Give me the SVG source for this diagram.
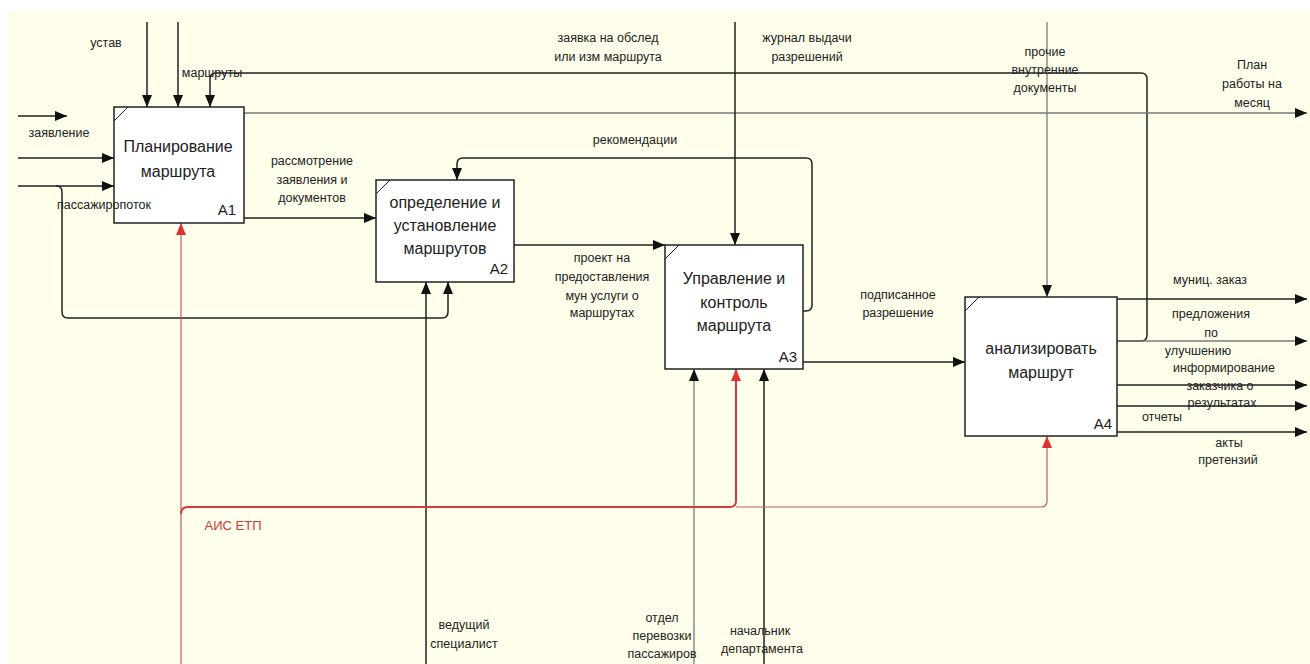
<svg xmlns="http://www.w3.org/2000/svg" width="1310" height="664" viewBox="0 0 1310 664">
<style>
.bg{fill:#FFFEEB}
.box{fill:#fff;stroke:#222;stroke-width:1.5}
.tick{stroke:#222;stroke-width:1}
.bt{font-family:"Liberation Sans",Arial,sans-serif;font-size:16px;fill:#222;text-anchor:middle}
.id{font-family:"Liberation Sans",Arial,sans-serif;font-size:15px;fill:#222;text-anchor:middle}
.lb{font-family:"Liberation Sans",Arial,sans-serif;font-size:12.5px;fill:#222;text-anchor:middle}
.rl{font-family:"Liberation Sans",Arial,sans-serif;font-size:13px;fill:#C83C3C;text-anchor:middle}
.c{fill:none;stroke:#222;stroke-width:1.5}
.g{fill:none;stroke:#7a7a7a;stroke-width:1.3}
.r{fill:none;stroke:#D23C3C;stroke-width:2}
.rt{fill:none;stroke:#B86060;stroke-width:1.2}
</style>
<defs>
<marker id="ah" markerUnits="userSpaceOnUse" markerWidth="13" markerHeight="11" refX="12" refY="5" orient="auto"><path d="M0,0 L12,5 L0,10 z" fill="#111"/></marker>
<marker id="ahr" markerUnits="userSpaceOnUse" markerWidth="13" markerHeight="11" refX="12" refY="5" orient="auto"><path d="M0,0 L12,5 L0,10 z" fill="#E03030"/></marker>
</defs>
<rect x="0" y="0" width="1310" height="664" fill="#fff"/>
<rect class="bg" x="8" y="11" width="1302" height="653"/>

<g id="connectors">
<path class="c" d="M18,116 H67" marker-end="url(#ah)"/>
<path class="c" d="M18,158 H114" marker-end="url(#ah)"/>
<path class="c" d="M18,186 H114" marker-end="url(#ah)"/>
<path class="c" d="M56,186 Q62,186 62,192 V312 Q62,318 68,318 H442 Q448,318 448,312 V282" marker-end="url(#ah)"/>
<path class="c" d="M147,22 V107" marker-end="url(#ah)"/>
<path class="c" d="M178,22 V107" marker-end="url(#ah)"/>
<path class="c" d="M1117,341 H1141 Q1147,341 1147,335 V79 Q1147,73 1141,73 H216 Q210,73 210,79 V107" marker-end="url(#ah)"/>
<path class="g" d="M1117,341 H1307" marker-end="url(#ah)"/>
<path class="g" d="M244,113 H1307" marker-end="url(#ah)"/>
<path class="c" d="M244,218 H376" marker-end="url(#ah)"/>
<path class="c" d="M514,245 H665" marker-end="url(#ah)"/>
<path class="c" d="M803,362 H965" marker-end="url(#ah)"/>
<path class="c" d="M735,22 V245" marker-end="url(#ah)"/>
<path class="g" d="M1047,22 V297" marker-end="url(#ah)"/>
<path class="c" d="M803,311 H806 Q812,311 812,305 V164 Q812,158 806,158 H463 Q457,158 457,164 V180" marker-end="url(#ah)"/>
<path class="c" d="M426,664 V282" marker-end="url(#ah)"/>
<path class="g" d="M694,664 V369" marker-end="url(#ah)"/>
<path class="c" d="M764,664 V369" marker-end="url(#ah)"/>
<path class="rt" d="M181,664 V223" marker-end="url(#ahr)"/>
<path class="r" d="M181,514 Q181,507 188,507 H730 Q736,507 736,501 V369" marker-end="url(#ahr)"/>
<path class="rt" d="M736,507 H1041 Q1047,507 1047,501 V436" marker-end="url(#ahr)"/>
<path class="c" d="M1117,299 H1307" marker-end="url(#ah)"/>
<path class="c" d="M1117,385 H1307" marker-end="url(#ah)"/>
<path class="c" d="M1117,406 H1307" marker-end="url(#ah)"/>
<path class="c" d="M1117,432 H1307" marker-end="url(#ah)"/>
</g>

<g id="A1">
<rect class="box" x="114" y="107" width="130" height="116"/>
<line class="tick" x1="114" y1="121" x2="128" y2="107"/>
<text class="bt" x="178" y="152">Планирование</text>
<text class="bt" x="178" y="177">маршрута</text>
<text class="id" x="227" y="215">А1</text>
</g>
<g id="A2">
<rect class="box" x="376" y="180" width="138" height="102"/>
<line class="tick" x1="376" y1="194" x2="390" y2="180"/>
<text class="bt" x="445" y="208">определение и</text>
<text class="bt" x="445" y="231">установление</text>
<text class="bt" x="445" y="254">маршрутов</text>
<text class="id" x="499" y="274">А2</text>
</g>
<g id="A3">
<rect class="box" x="665" y="245" width="138" height="124"/>
<line class="tick" x1="665" y1="259" x2="679" y2="245"/>
<text class="bt" x="734" y="284">Управление и</text>
<text class="bt" x="734" y="308">контроль</text>
<text class="bt" x="734" y="331">маршрута</text>
<text class="id" x="788" y="362">А3</text>
</g>
<g id="A4">
<rect class="box" x="965" y="297" width="152" height="139"/>
<line class="tick" x1="965" y1="311" x2="979" y2="297"/>
<text class="bt" x="1041" y="354">анализировать</text>
<text class="bt" x="1041" y="378">маршрут</text>
<text class="id" x="1103" y="429">А4</text>
</g>

<g id="labels">
<text class="lb" x="106" y="47">устав</text>
<text class="lb" x="212" y="77">маршруты</text>
<text class="lb" x="59" y="137">заявление</text>
<text class="lb" x="104" y="209">пассажиропоток</text>
<text class="lb" x="608" y="42">заявка на обслед</text>
<text class="lb" x="608" y="61">или изм маршрута</text>
<text class="lb" x="807" y="42">журнал выдачи</text>
<text class="lb" x="807" y="61">разрешений</text>
<text class="lb" x="1045" y="56">прочие</text>
<text class="lb" x="1045" y="74">внутренние</text>
<text class="lb" x="1045" y="92">документы</text>
<text class="lb" x="1252" y="69">План</text>
<text class="lb" x="1252" y="88">работы на</text>
<text class="lb" x="1252" y="107">месяц</text>
<text class="lb" x="635" y="144">рекомендации</text>
<text class="lb" x="312" y="165">рассмотрение</text>
<text class="lb" x="312" y="184">заявления и</text>
<text class="lb" x="312" y="202">документов</text>
<text class="lb" x="602" y="262">проект на</text>
<text class="lb" x="602" y="281">предоставления</text>
<text class="lb" x="602" y="300">мун услуги о</text>
<text class="lb" x="602" y="317">маршрутах</text>
<text class="lb" x="898" y="299">подписанное</text>
<text class="lb" x="898" y="317">разрешение</text>
<text class="lb" x="1210" y="284">муниц. заказ</text>
<text class="lb" x="1211" y="318">предложения</text>
<text class="lb" x="1211" y="337">по</text>
<text class="lb" x="1198" y="355">улучшению</text>
<text class="lb" x="1224" y="372">информирование</text>
<text class="lb" x="1220" y="390">заказчика о</text>
<text class="lb" x="1222" y="407">результатах</text>
<text class="lb" x="1162" y="421">отчеты</text>
<text class="lb" x="1229" y="447">акты</text>
<text class="lb" x="1228" y="464">претензий</text>
<text class="rl" x="233" y="530">АИС ЕТП</text>
<text class="lb" x="464" y="629">ведущий</text>
<text class="lb" x="464" y="648">специалист</text>
<text class="lb" x="662" y="622">отдел</text>
<text class="lb" x="662" y="640">перевозки</text>
<text class="lb" x="662" y="658">пассажиров</text>
<text class="lb" x="760" y="635">начальник</text>
<text class="lb" x="762" y="653">департамента</text>
</g>
</svg>
